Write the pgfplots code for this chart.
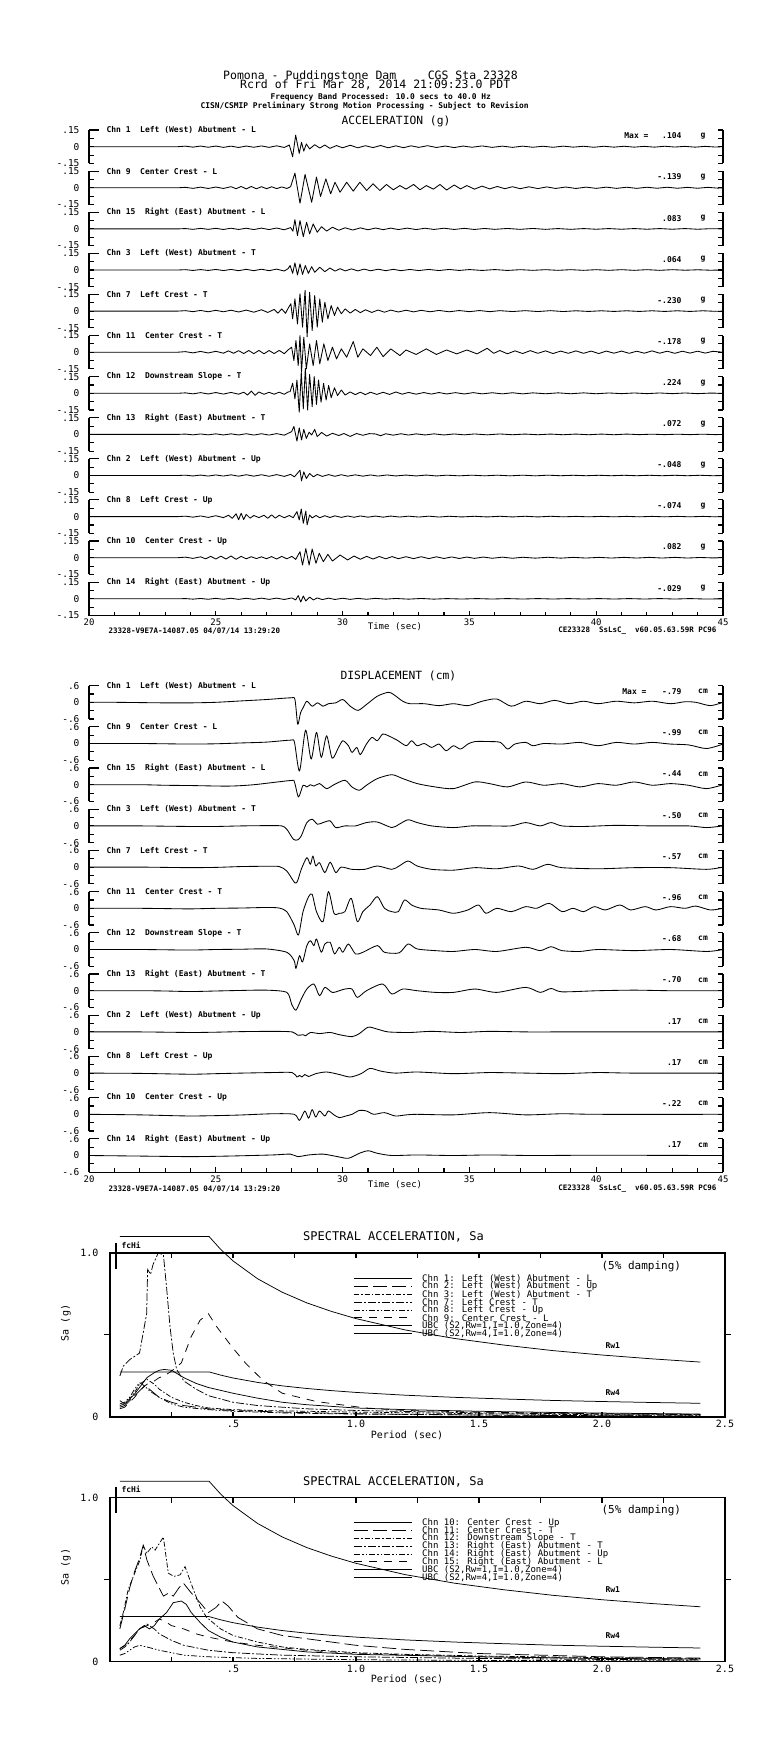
\documentclass[border=0pt]{standalone}
\usepackage{fontspec}
\setmainfont{DejaVu Sans Mono}
\usepackage{pgfplots}
\pgfplotsset{compat=1.18}

\newcommand\lbl{\fontsize{8}{9}\selectfont\bfseries}
\tikzset{
  sp/.style={black, line width=0.75pt},
  sA/.style={sp},
  sB/.style={sp, dash pattern=on 14pt off 5pt},
  sC/.style={sp, dash pattern=on 5pt off 2pt on 1.5pt off 2pt},
  sD/.style={sp, dash pattern=on 8pt off 2pt on 2pt off 2pt},
  sE/.style={sp, dash pattern=on 6pt off 2pt on 1.5pt off 2pt on 1.5pt off 2pt},
  sF/.style={sp, dash pattern=on 8pt off 7pt},
  tr/.style={black, line width=0.85pt, line join=round},
}
\pgfplotsset{
  trace/.style={
    scale only axis, width=634pt, height=33.4pt, anchor=south west,
    xmin=20, xmax=45, clip=false, xtick=\empty,
    axis x line=none, axis y line=box,
    axis line style={line width=1.1pt},
    tick align=inside, major tick length=5pt,
    ytick style={line width=1.1pt, black},
    yticklabel style={font=\fontsize{9.5}{10}\selectfont, xshift=-6pt},
  },
  acc/.style={trace, ymin=-0.15, ymax=0.15,
    ytick={-0.15,-0.075,0,0.075,0.15}, yticklabels={-.15,,0,,.15}},
  dsp/.style={trace, ymin=-0.6, ymax=0.6,
    ytick={-0.6,-0.3,0,0.3,0.6}, yticklabels={-.6,,0,,.6}},
  timeaxis/.style={
    scale only axis, width=634pt, height=20pt, anchor=south west,
    xmin=20, xmax=45, ymin=0, ymax=1, ytick=\empty,
    axis x line=bottom, axis y line=none,
    axis line style={-, line width=1.1pt},
    tick align=inside, major tick length=5pt, minor tick length=4pt,
    tick style={line width=1.1pt, black},
    xtick={20,25,30,35,40,45}, xticklabels={20,25,30,35,40,45},
    minor xtick={21,22,23,24,26,27,28,29,31,32,33,34,36,37,38,39,41,42,43,44},
    xticklabel style={font=\fontsize{9}{9}\selectfont},
  },
  spec/.style={
    scale only axis, width=615pt, height=164pt, anchor=south west,
    xmin=0, xmax=2.5, ymin=0, ymax=1, clip=false,
    axis line style={line width=1.1pt},
    tick align=inside, major tick length=5pt, tick style={line width=1.1pt, black},
    xtick={0,0.25,0.5,0.75,1,1.25,1.5,1.75,2,2.25,2.5},
    xticklabels={,,.5,,1.0,,1.5,,2.0,,2.5},
    ytick={0,1}, yticklabels={0,1.0},
    xticklabel style={font=\fontsize{10}{10}\selectfont},
    yticklabel style={font=\fontsize{10}{10}\selectfont, xshift=-8pt},
  },
}

% #1 style, #2 bottom y, #3 label, #4 max value, #5 unit, #6 coordinates
\newcommand\trace[6]{%
\begin{axis}[#1, at={(89pt,-#2pt)}]
\addplot[tr] coordinates {#6};
\draw[line width=1.1pt] (rel axis cs:0,1) -- ([xshift=10pt]rel axis cs:0,1);
\node[anchor=west,font=\lbl] at ([xshift=14pt]rel axis cs:0,1) {#3};
\node[anchor=east,font=\lbl] at ([xshift=-38pt,yshift=-6pt]rel axis cs:1,1) {#4};
\node[font=\lbl] at ([xshift=-20pt,yshift=-6pt]rel axis cs:1,1) {#5};
\end{axis}}

\newcommand\legrow[3]{%
\draw[#2] (354,-#1) -- (412,-#1);
\node[anchor=west, font=\fontsize{9}{9}\selectfont, inner sep=0pt] at (422,-#1) {#3};}

\begin{document}
\begin{tikzpicture}[x=1pt,y=1pt]
\path (0,0) rectangle (775,-1737);

% ---------- header ----------
\node[anchor=base west, inner sep=0pt, text depth=0pt, font=\fontsize{11.5}{12}\selectfont] at (223,-80) {Pomona - Puddingstone Dam};
\node[anchor=base east, inner sep=0pt, text depth=0pt, font=\fontsize{11.5}{12}\selectfont] at (518,-80) {CGS Sta 23328};
\node[anchor=base west, inner sep=0pt, text height=7.4pt, font=\fontsize{11.5}{12}\selectfont] at (240,-88.4) {Rcrd of Fri Mar 28, 2014 21:09:23.0 PDT};
\node[anchor=west, font=\fontsize{7.9}{8}\selectfont\bfseries] at (267,-97.3) {Frequency Band Processed: 10.0 secs to 40.0 Hz};
\node[anchor=west, font=\fontsize{7.9}{8}\selectfont\bfseries] at (197,-106) {CISN/CSMIP Preliminary Strong Motion Processing - Subject to Revision};
\node[anchor=west, font=\fontsize{11.3}{12}\selectfont] at (338,-121.7) {ACCELERATION (g)};

% ---------- acceleration ----------
\trace{acc}{163.4}{Chn 1~~Left (West) Abutment - L}{.104}{g}{(20,0)(23.5,0)(23.8,.005)(24.1,-.004)(24.4,.006)(24.7,-.005)(25,.006)(25.3,-.006)(25.6,.005)(25.9,-.007)(26.2,.006)(26.5,-.005)(26.8,.007)(27.1,-.006)(27.4,.008)(27.7,-.007)(27.9,.015)(28.03,-.09)(28.15,.104)(28.29,-.06)(28.38,.04)(28.47,-.04)(28.57,.025)(28.7,-.02)(28.9,.018)(29.1,-.012)(29.3,.015)(29.5,-.015)(29.76,.01)(30,-.01)(30.3,.013)(30.6,-.01)(30.9,.009)(31.2,-.008)(31.5,.011)(31.8,-.01)(32.1,.008)(32.4,-.009)(32.7,.008)(33,-.006)(33.35,.009)(33.7,-.007)(34.05,.006)(34.4,-.008)(34.75,.006)(35.1,-.005)(35.5,.007)(35.9,-.006)(36.3,.005)(36.7,-.006)(37.1,.005)(37.5,-.005)(37.9,.004)(38.3,-.005)(38.7,.005)(39.1,-.004)(39.5,.004)(39.9,-.005)(40.3,.004)(40.7,-.004)(41.1,.004)(41.5,-.004)(41.9,.003)(42.3,-.004)(42.7,.004)(43.1,-.003)(43.5,.003)(43.9,-.004)(44.3,.003)(44.7,-.003)(45,0)}
\trace{acc}{204.5}{Chn 9~~Center Crest - L}{-.139}{g}{(20,0)(23.5,0)(23.8,.004)(24.1,-.005)(24.4,.006)(24.7,-.006)(25,.007)(25.3,-.006)(25.6,.01)(25.8,-.008)(26,.012)(26.2,-.01)(26.4,.012)(26.6,-.009)(26.8,.01)(27,-.008)(27.2,.009)(27.4,-.007)(27.6,.008)(27.8,-.006)(27.95,.01)(28.12,.132)(28.32,-.139)(28.52,.12)(28.78,-.13)(28.97,.096)(29.13,-.078)(29.34,.08)(29.53,-.054)(29.7,.05)(29.9,-.04)(30.16,.05)(30.42,-.03)(30.68,.05)(30.95,-.024)(31.2,.036)(31.47,-.024)(31.73,.03)(32,-.018)(32.26,.02)(32.5,-.012)(32.8,.03)(33.05,-.018)(33.3,.02)(33.58,-.012)(33.84,.03)(34.1,-.02)(34.4,.025)(34.65,-.01)(34.9,.02)(35.2,-.012)(35.5,.015)(35.8,-.01)(36.1,.012)(36.4,-.008)(36.7,.01)(37,-.008)(37.35,.009)(37.7,-.007)(38.05,.008)(38.4,-.006)(38.8,.007)(39.2,-.006)(39.6,.006)(40,-.005)(40.4,.006)(40.8,-.005)(41.2,.005)(41.6,-.005)(42,.005)(42.4,-.004)(42.8,.005)(43.2,-.004)(43.6,.004)(44,-.004)(44.4,.004)(44.8,-.003)(45,0)}
\trace{acc}{245.6}{Chn 15~~Right (East) Abutment - L}{.083}{g}{(20,0)(23.5,0)(23.8,.003)(24.1,-.004)(24.4,.005)(24.7,-.004)(25,.005)(25.3,-.005)(25.6,.006)(25.9,-.005)(26.2,.006)(26.5,-.006)(26.8,.007)(27.1,-.006)(27.4,.008)(27.7,-.008)(27.95,.012)(28.04,-.02)(28.12,.083)(28.22,-.06)(28.32,.075)(28.45,-.07)(28.58,.06)(28.7,-.045)(28.84,.045)(29,-.03)(29.17,.02)(29.37,-.02)(29.6,.015)(29.85,-.012)(30.1,.01)(30.4,-.01)(30.7,.009)(31,-.008)(31.3,.008)(31.6,-.007)(31.9,.007)(32.2,-.006)(32.55,.007)(32.9,-.006)(33.25,.006)(33.6,-.005)(34,.006)(34.4,-.005)(34.8,.005)(35.2,-.005)(35.6,.004)(36,-.004)(36.5,.004)(37,-.004)(37.5,.004)(38,-.004)(38.5,.003)(39,-.004)(39.5,.003)(40,-.003)(40.5,.003)(41,-.003)(41.5,.003)(42,-.003)(42.5,.003)(43,-.003)(43.5,.003)(44,-.003)(44.5,.002)(45,0)}
\trace{acc}{286.7}{Chn 3~~Left (West) Abutment - T}{.064}{g}{(20,0)(23.5,0)(23.8,.003)(24.1,-.004)(24.4,.004)(24.7,-.004)(25,.005)(25.3,-.005)(25.6,.005)(25.9,-.006)(26.2,.006)(26.5,-.006)(26.8,.007)(27.1,-.006)(27.4,.008)(27.7,-.009)(27.85,.012)(27.93,.04)(28.03,-.03)(28.12,.064)(28.22,-.045)(28.32,.055)(28.42,-.04)(28.53,.04)(28.65,-.03)(28.78,.03)(28.9,-.02)(29.1,.025)(29.3,-.015)(29.5,.018)(29.7,-.01)(29.9,.012)(30.1,-.008)(30.35,.01)(30.6,-.008)(30.85,.008)(31.1,-.007)(31.4,.007)(31.7,-.006)(32,.006)(32.3,-.006)(32.65,.005)(33,-.005)(33.4,.005)(33.8,-.005)(34.2,.005)(34.6,-.004)(35,.004)(35.5,-.004)(36,.004)(36.5,-.004)(37,.003)(37.5,-.003)(38,.003)(38.5,-.003)(39,.003)(39.5,-.003)(40,.003)(40.5,-.003)(41,.003)(41.5,-.003)(42,.003)(42.5,-.003)(43,.003)(43.5,-.002)(44,.002)(44.5,-.002)(45,0)}
\trace{acc}{327.8}{Chn 7~~Left Crest - T}{-.230}{g}{(20,0)(23.5,0)(23.8,.004)(24.1,-.005)(24.4,.006)(24.7,-.006)(25,.007)(25.3,-.006)(25.6,.008)(25.9,-.008)(26.2,.009)(26.5,-.01)(26.8,.012)(27.05,-.012)(27.3,.015)(27.45,-.018)(27.6,.02)(27.75,-.02)(27.85,.025)(27.96,.066)(28.03,-.07)(28.12,.11)(28.22,-.115)(28.32,.156)(28.42,-.144)(28.52,.186)(28.6,-.23)(28.7,.17)(28.8,-.174)(28.9,.14)(29,-.144)(29.1,.11)(29.2,-.1)(29.3,.08)(29.42,-.07)(29.55,.05)(29.68,-.04)(29.8,.036)(29.95,-.024)(30.1,.02)(30.3,-.018)(30.5,.015)(30.7,-.014)(30.9,.012)(31.15,-.012)(31.4,.01)(31.65,-.01)(31.9,.009)(32.2,-.008)(32.5,.008)(32.8,-.007)(33.1,.007)(33.45,-.006)(33.8,.006)(34.2,-.006)(34.6,.005)(35,-.005)(35.4,.005)(35.8,-.005)(36.2,.004)(36.7,-.004)(37.2,.004)(37.7,-.004)(38.2,.004)(38.7,-.004)(39.2,.003)(39.7,-.003)(40.2,.003)(40.7,-.003)(41.2,.003)(41.7,-.003)(42.2,.003)(42.7,-.003)(43.2,.003)(43.7,-.003)(44.2,.003)(44.7,-.002)(45,0)}
\trace{acc}{368.9}{Chn 11~~Center Crest - T}{-.178}{g}{(20,0)(23.5,0)(23.8,.005)(24.1,-.006)(24.4,.007)(24.7,-.007)(25,.008)(25.3,-.009)(25.5,.012)(25.7,-.01)(25.9,.014)(26.1,-.012)(26.3,.015)(26.5,-.013)(26.7,.016)(26.9,-.014)(27.1,.015)(27.3,-.012)(27.5,.016)(27.7,-.013)(27.85,.02)(27.99,.045)(28.08,-.075)(28.16,.105)(28.25,-.12)(28.32,.15)(28.38,-.178)(28.47,.135)(28.57,-.15)(28.7,.075)(28.84,-.12)(28.97,.105)(29.1,-.105)(29.26,.075)(29.42,-.075)(29.6,.045)(29.76,-.06)(29.95,.03)(30.16,-.045)(30.42,.096)(30.6,-.045)(30.8,.03)(31.1,-.03)(31.35,.045)(31.6,-.04)(31.9,.03)(32.26,-.03)(32.5,.02)(32.9,-.02)(33.3,.03)(33.7,-.02)(34.1,.02)(34.5,-.015)(34.9,.02)(35.3,-.015)(35.7,.035)(35.96,-.01)(36.2,.015)(36.5,-.014)(36.8,.012)(37.1,-.012)(37.4,.014)(37.7,-.01)(38,.012)(38.3,-.012)(38.6,.01)(38.9,-.01)(39.2,.012)(39.5,-.01)(39.8,.01)(40.1,-.012)(40.4,.01)(40.7,-.009)(41,.01)(41.3,-.01)(41.6,.009)(41.9,-.009)(42.2,.012)(42.5,-.009)(42.8,.009)(43.1,-.01)(43.4,.009)(43.7,-.008)(44,.009)(44.3,-.008)(44.6,.008)(45,0)}
\trace{acc}{410.0}{Chn 12~~Downstream Slope - T}{.224}{g}{(20,0)(23.5,0)(23.8,.004)(24.1,-.005)(24.4,.006)(24.7,-.006)(25,.007)(25.3,-.007)(25.6,.008)(25.9,-.008)(26.1,.01)(26.25,-.015)(26.4,.02)(26.55,-.018)(26.7,.012)(26.9,-.009)(27.1,.009)(27.3,-.008)(27.5,.01)(27.7,-.009)(27.85,.012)(27.93,.015)(28.03,.09)(28.12,-.05)(28.2,.12)(28.29,-.17)(28.37,.19)(28.45,-.14)(28.53,.224)(28.62,-.15)(28.7,.17)(28.8,-.12)(28.88,.15)(28.97,-.1)(29.05,.12)(29.15,-.08)(29.25,.09)(29.35,-.06)(29.45,.07)(29.55,-.04)(29.68,.05)(29.8,-.02)(29.95,.03)(30.1,-.015)(30.3,.012)(30.5,-.012)(30.7,.01)(30.9,-.012)(31.1,.01)(31.35,-.01)(31.6,.009)(31.85,-.01)(32.1,.012)(32.35,-.008)(32.6,.008)(32.9,-.008)(33.2,.007)(33.5,-.007)(33.8,.007)(34.1,-.006)(34.45,.006)(34.8,-.006)(35.15,.006)(35.5,-.005)(35.9,.005)(36.3,-.005)(36.7,.005)(37.1,-.005)(37.5,.004)(38,-.004)(38.5,.004)(39,-.004)(39.5,.004)(40,-.004)(40.5,.003)(41,-.003)(41.5,.003)(42,-.003)(42.5,.003)(43,-.003)(43.5,.003)(44,-.003)(44.5,.002)(45,0)}
\trace{acc}{451.1}{Chn 13~~Right (East) Abutment - T}{.072}{g}{(20,0)(23.5,0)(23.8,.003)(24.1,-.004)(24.4,.004)(24.7,-.004)(25,.005)(25.3,-.005)(25.6,.005)(25.9,-.005)(26.2,.006)(26.5,-.006)(26.8,.006)(27.1,-.006)(27.4,.007)(27.7,-.007)(27.99,.025)(28.08,.072)(28.2,-.06)(28.29,.06)(28.38,-.05)(28.47,.045)(28.57,-.036)(28.68,.02)(28.78,-.005)(28.9,.045)(29,-.02)(29.17,.018)(29.37,-.015)(29.6,.01)(29.85,-.01)(30.05,.008)(30.3,-.018)(30.55,.008)(30.8,-.008)(31.05,.007)(31.3,.004)(31.5,-.012)(31.7,.006)(32,-.007)(32.3,.006)(32.6,-.006)(32.9,.005)(33.25,-.005)(33.6,.005)(34,-.005)(34.4,.004)(34.8,-.004)(35.2,.004)(35.7,-.004)(36.2,.004)(36.7,-.003)(37.2,.003)(37.7,-.003)(38.2,.003)(38.7,-.003)(39.2,.003)(39.7,-.003)(40.2,.003)(40.7,-.003)(41.2,.003)(41.7,-.002)(42.2,.002)(42.7,-.002)(43.2,.002)(43.7,-.002)(44.2,.002)(44.7,-.002)(45,0)}
\trace{acc}{492.2}{Chn 2~~Left (West) Abutment - Up}{-.048}{g}{(20,0)(23.5,0)(23.8,.003)(24.1,-.004)(24.4,.004)(24.7,-.005)(25,.005)(25.3,-.005)(25.6,.006)(25.9,-.006)(26.2,.007)(26.5,-.006)(26.8,.007)(27.1,-.007)(27.4,.008)(27.7,-.008)(27.95,.01)(28.1,-.012)(28.2,.015)(28.32,.048)(28.38,-.048)(28.47,.033)(28.57,-.027)(28.7,.018)(28.85,-.012)(29,.01)(29.2,-.008)(29.45,.008)(29.7,-.007)(29.95,.007)(30.2,-.006)(30.5,.006)(30.8,-.006)(31.1,.005)(31.4,-.005)(31.75,.005)(32.1,-.004)(32.5,.004)(32.9,-.004)(33.3,.004)(33.7,-.004)(34.1,.003)(34.6,-.003)(35.1,.003)(35.6,-.003)(36.1,.003)(36.6,-.003)(37.1,.003)(37.6,-.003)(38.1,.003)(38.6,-.002)(39.1,.002)(39.6,-.002)(40.1,.002)(40.6,-.002)(41.1,.002)(41.6,-.002)(42.1,.002)(42.6,-.002)(43.1,.002)(43.6,-.002)(44.1,.002)(44.6,-.002)(45,0)}
\trace{acc}{533.3}{Chn 8~~Left Crest - Up}{-.074}{g}{(20,0)(23.5,0)(23.8,.004)(24.1,-.005)(24.4,.006)(24.7,-.007)(25,.008)(25.3,-.009)(25.5,.012)(25.65,-.015)(25.8,.025)(25.9,-.028)(26,.03)(26.1,-.026)(26.2,.02)(26.35,-.014)(26.5,.01)(26.7,-.009)(26.9,.012)(27.05,-.015)(27.2,.016)(27.35,-.014)(27.5,.012)(27.7,-.01)(27.9,.01)(28.05,-.01)(28.2,.045)(28.29,-.03)(28.37,.069)(28.45,-.06)(28.55,.05)(28.6,-.074)(28.7,.015)(28.8,-.012)(28.95,.01)(29.1,-.01)(29.3,.008)(29.5,-.008)(29.7,.007)(29.95,-.007)(30.2,.006)(30.45,-.006)(30.7,.006)(31,-.005)(31.3,.005)(31.6,-.005)(31.9,.005)(32.25,-.004)(32.6,.004)(33,-.004)(33.4,.004)(33.8,-.004)(34.2,.003)(34.7,-.003)(35.2,.003)(35.7,-.003)(36.2,.003)(36.7,-.003)(37.2,.003)(37.7,-.003)(38.2,.003)(38.7,-.002)(39.2,.002)(39.7,-.002)(40.2,.002)(40.7,-.002)(41.2,.002)(41.7,-.002)(42.2,.002)(42.7,-.002)(43.2,.002)(43.7,-.002)(44.2,.002)(44.7,-.002)(45,0)}
\trace{acc}{574.4}{Chn 10~~Center Crest - Up}{.082}{g}{(20,0)(23.5,0)(23.8,.005)(24.1,-.006)(24.4,.008)(24.6,-.01)(24.8,.012)(25,-.012)(25.2,.014)(25.4,-.012)(25.6,.015)(25.8,-.014)(26,.012)(26.2,-.01)(26.4,.009)(26.6,-.008)(26.8,.008)(27,-.009)(27.2,.01)(27.4,-.012)(27.6,.012)(27.8,-.01)(28,.012)(28.15,-.015)(28.32,.054)(28.42,-.066)(28.55,.082)(28.68,-.066)(28.8,.078)(28.95,-.05)(29.08,.04)(29.24,-.036)(29.42,.03)(29.6,-.03)(29.9,.024)(30.2,-.02)(30.45,.015)(30.7,-.014)(30.95,.012)(31.2,-.012)(31.45,.011)(31.7,-.01)(31.95,.01)(32.2,-.009)(32.5,.009)(32.8,-.008)(33.1,.009)(33.4,-.008)(33.7,.008)(34,-.007)(34.3,.007)(34.6,-.007)(34.9,.006)(35.2,-.006)(35.55,.006)(35.9,-.005)(36.3,.005)(36.7,-.005)(37.1,.004)(37.6,-.004)(38.1,.004)(38.6,-.004)(39.1,.003)(39.6,-.003)(40.1,.003)(40.6,-.003)(41.1,.003)(41.6,-.003)(42.1,.003)(42.6,-.003)(43.1,.003)(43.6,-.003)(44.1,.002)(44.6,-.002)(45,0)}
\trace{acc}{615.5}{Chn 14~~Right (East) Abutment - Up}{-.029}{g}{(20,0)(23.5,0)(23.8,.002)(24.1,-.003)(24.4,.003)(24.7,-.004)(25,.004)(25.3,-.004)(25.6,.005)(25.9,-.005)(26.2,.005)(26.5,-.005)(26.8,.006)(27.1,-.005)(27.4,.006)(27.7,-.006)(28,.008)(28.15,-.01)(28.25,.029)(28.35,-.029)(28.45,.025)(28.55,-.02)(28.7,.015)(28.85,-.01)(29,.008)(29.2,-.007)(29.45,.006)(29.7,-.006)(30,.005)(30.3,-.005)(30.6,.004)(30.95,-.004)(31.3,.004)(31.7,-.003)(32.1,.003)(32.6,-.003)(33.1,.003)(33.6,-.003)(34.1,.002)(34.7,-.002)(35.3,.002)(35.9,-.002)(36.5,.002)(37.1,-.002)(37.7,.002)(38.3,-.002)(38.9,.002)(39.5,-.002)(40.1,.002)(40.7,-.002)(41.3,.002)(41.9,-.002)(42.5,.002)(43.1,-.002)(43.7,.002)(44.3,-.002)(45,0)}
\begin{axis}[timeaxis, at={(89pt,-615.5pt)}]
\end{axis}
\node[anchor=east, font=\lbl] at (652,-136) {Max =};
\node[font=\fontsize{9}{9}\selectfont] at (395,-627) {Time (sec)};
\node[anchor=west, font=\fontsize{7.5}{8}\selectfont\bfseries] at (105,-631) {23328-V9E7A-14087.05 04/07/14 13:29:20};
\node[anchor=east, font=\fontsize{7.5}{8}\selectfont\bfseries] at (720,-631) {CE23328~~SsLsC\_~~v60.05.63.59R PC96};

% ---------- displacement ----------
\node[anchor=west, font=\fontsize{11.3}{12}\selectfont] at (337,-676) {DISPLACEMENT (cm)};
\tikzset{tr/.append style={smooth, tension=0.45}}
\trace{dsp}{719.0}{Chn 1~~Left (West) Abutment - L}{-.79}{cm}{(20,0)(21,0)(22,-.01)(23,-.02)(24,-.02)(25,0)(26,.05)(27,.1)(27.94,.16)(28.12,.1)(28.23,-.79)(28.34,-.38)(28.44,-.2)(28.59,.04)(28.8,-.14)(29.01,-.02)(29.23,-.14)(29.44,-.05)(29.73,-.02)(30.01,.1)(30.3,-.14)(30.61,-.29)(30.94,-.08)(31.37,.22)(31.8,.36)(32.01,.28)(32.37,.04)(32.65,-.05)(33.22,-.05)(33.8,-.12)(34.37,-.05)(34.94,-.12)(35.51,.04)(36.08,.12)(36.65,-.14)(37.22,.04)(37.79,-.05)(38.36,.07)(38.93,-.05)(39.5,.04)(40.07,-.05)(40.79,.04)(41.5,-.02)(42.21,.04)(42.93,-.05)(43.5,.02)(43.93,0)(44.5,-.12)(45,0)}
\trace{dsp}{760.2}{Chn 9~~Center Crest - L}{-.99}{cm}{(20,0)(22,0)(23,-.01)(24,-.02)(25,-.01)(26,.02)(27,.05)(27.94,.12)(28.1,.05)(28.3,-.99)(28.54,.48)(28.76,-.56)(28.97,.4)(29.16,-.5)(29.37,.28)(29.59,-.53)(29.84,-.14)(30.01,.1)(30.23,-.08)(30.37,-.32)(30.56,-.14)(30.7,-.4)(30.94,-.02)(31.16,.22)(31.37,.1)(31.58,.34)(31.8,.28)(32.15,.12)(32.51,-.08)(32.72,.1)(32.94,-.08)(33.22,0)(33.51,-.14)(33.8,-.02)(34.08,-.26)(34.37,-.08)(34.65,-.2)(34.94,-.02)(35.22,.07)(35.79,.07)(36.22,.04)(36.51,-.2)(36.79,-.02)(37.22,.04)(37.51,-.08)(37.93,0)(38.65,-.02)(39.36,.04)(40.07,-.08)(40.79,.04)(41.5,-.02)(42.21,.04)(42.93,-.02)(43.64,-.05)(44.35,-.18)(45,-.02)}
\trace{dsp}{801.4}{Chn 15~~Right (East) Abutment - L}{-.44}{cm}{(20,0)(22,0)(23,-.02)(24,-.03)(25.5,-.05)(26.5,0)(27.94,.15)(28.1,.1)(28.26,-.44)(28.44,-.02)(28.59,-.08)(28.73,0)(28.87,-.05)(29.09,.04)(29.37,-.14)(29.66,0)(30.09,.16)(30.37,-.08)(30.66,-.2)(30.94,-.02)(31.37,.22)(31.94,.36)(32.37,.22)(32.94,.04)(33.65,-.08)(34.37,-.14)(35.22,.1)(35.79,.04)(36.51,-.08)(37.22,.1)(37.93,-.02)(38.65,.04)(39.36,-.08)(40.07,.04)(40.79,-.02)(41.5,.1)(42.21,-.02)(42.93,.04)(43.64,-.02)(44.35,-.14)(45,0)}
\trace{dsp}{842.6}{Chn 3~~Left (West) Abutment - T}{-.50}{cm}{(20,0)(22,0)(23,-.01)(24,-.02)(25,-.02)(26,0)(27,.01)(27.6,0)(27.8,-.12)(28.06,-.48)(28.23,-.5)(28.37,-.36)(28.59,.12)(28.8,.24)(29.01,.06)(29.23,.12)(29.51,.18)(29.73,-.06)(30.09,0)(30.51,0)(30.94,.12)(31.37,.14)(31.94,-.06)(32.23,.06)(32.58,.22)(32.94,.12)(33.51,0)(34.37,-.06)(35.08,0)(35.79,0)(36.65,0)(37.22,.12)(37.79,0)(38.22,.12)(38.65,0)(39.5,-.02)(40.79,.02)(42.21,0)(43.64,0)(44.35,-.06)(45,0)}
\trace{dsp}{883.8}{Chn 7~~Left Crest - T}{-.57}{cm}{(20,0)(22,0)(23,-.01)(24,-.02)(25,-.01)(26,.02)(27,.03)(27.5,.02)(27.8,-.14)(28.12,-.57)(28.23,-.48)(28.37,-.08)(28.59,.34)(28.73,.1)(28.83,.4)(28.94,.04)(29.09,.16)(29.3,-.2)(29.51,.18)(29.73,-.2)(29.94,0)(30.37,-.08)(30.87,-.08)(31.37,.04)(31.94,-.08)(32.23,.04)(32.58,.22)(32.94,.04)(33.51,-.08)(34.37,-.11)(35.22,-.02)(36.08,-.06)(36.94,.04)(37.51,-.08)(38.08,.1)(38.65,-.02)(40.07,-.06)(41.5,-.02)(42.93,-.02)(44.35,-.08)(45,0)}
\trace{dsp}{925.0}{Chn 11~~Center Crest - T}{-.96}{cm}{(20,0)(22,0)(23,-.01)(24,-.02)(25,0)(26,.01)(27,.03)(27.5,.01)(27.8,-.12)(28.09,-.6)(28.26,-.96)(28.44,-.12)(28.66,.42)(28.8,.5)(28.97,-.12)(29.23,-.48)(29.44,.6)(29.66,-.18)(29.87,-.18)(30.09,-.12)(30.34,.36)(30.58,-.48)(30.8,-.12)(31.08,.12)(31.37,.42)(31.65,0)(31.94,-.12)(32.2,-.12)(32.44,.3)(32.72,.12)(33.08,0)(33.8,-.06)(34.37,-.18)(34.94,-.06)(35.36,.12)(35.65,-.18)(36.08,0)(36.65,-.12)(37.22,.06)(37.65,0)(38.15,.18)(38.65,-.12)(39.08,0)(39.5,-.12)(39.93,.06)(40.36,-.06)(40.93,.12)(41.36,-.06)(41.93,.06)(42.36,-.06)(42.93,.06)(43.5,0)(43.93,.08)(44.5,-.06)(45,0)}
\trace{dsp}{966.2}{Chn 12~~Downstream Slope - T}{-.68}{cm}{(20,0)(22,0)(23,-.01)(24,-.02)(25,0)(26,.01)(27,.02)(27.8,-.1)(28.09,-.4)(28.16,-.68)(28.3,-.22)(28.42,-.45)(28.59,.14)(28.73,.32)(28.87,.14)(28.97,.38)(29.16,-.1)(29.3,.2)(29.51,.26)(29.68,-.16)(29.87,.08)(30.01,-.1)(30.23,.2)(30.51,-.16)(30.8,-.1)(31.37,.14)(31.65,-.1)(32.23,-.12)(32.58,.2)(32.94,.02)(33.65,-.04)(34.37,-.07)(35.22,0)(36.08,-.07)(37.22,.08)(37.79,-.04)(38.22,.1)(38.65,-.04)(39.36,-.07)(40.07,0)(41.5,-.04)(42.93,0)(44.35,-.07)(45,0)}
\trace{dsp}{1007.4}{Chn 13~~Right (East) Abutment - T}{-.70}{cm}{(20,0)(22,0)(23,-.01)(24,-.03)(25,-.01)(26,.01)(27,.02)(27.8,-.06)(27.99,-.48)(28.16,-.7)(28.37,-.3)(28.59,.06)(28.87,.24)(29.09,-.18)(29.3,.12)(29.59,-.06)(29.87,0)(30.09,.06)(30.37,.06)(30.58,-.24)(30.94,0)(31.58,.24)(31.94,-.12)(32.37,.06)(32.94,0)(33.65,-.06)(34.37,-.06)(35.22,.06)(36.08,-.06)(37.22,.12)(37.79,-.06)(38.22,.08)(38.65,-.04)(40.07,0)(41.5,.02)(42.93,0)(45,0)}
\trace{dsp}{1048.6}{Chn 2~~Left (West) Abutment - Up}{.17}{cm}{(20,0)(22,0)(24,-.02)(25,-.01)(26,.01)(27.23,.02)(28.01,0)(28.23,-.12)(28.44,-.1)(28.54,-.14)(28.73,-.02)(29.09,-.06)(29.51,-.02)(29.87,-.1)(30.37,-.17)(30.66,-.06)(31.01,.17)(31.37,.1)(31.8,0)(32.65,-.02)(33.51,.02)(34.65,-.02)(35.79,.02)(37.22,0)(38.65,0)(41.5,0)(45,0)}
\trace{dsp}{1089.8}{Chn 8~~Left Crest - Up}{.17}{cm}{(20,0)(22,-.01)(24,-.04)(25,-.02)(26,0)(27.23,.02)(28.01,.02)(28.2,-.14)(28.3,-.08)(28.4,-.14)(28.51,-.05)(28.66,-.12)(28.94,-.02)(29.37,.04)(29.87,-.05)(30.3,-.14)(30.73,-.02)(31.08,.17)(31.51,.07)(32.08,0)(32.94,.04)(34.37,-.02)(35.79,.02)(37.22,0)(38.65,-.02)(40.07,.02)(41.5,0)(45,0)}
\trace{dsp}{1131.0}{Chn 10~~Center Crest - Up}{-.22}{cm}{(20,0)(22,-.02)(24,-.06)(25.8,-.03)(27.23,.02)(28.09,0)(28.3,-.22)(28.51,.12)(28.66,-.14)(28.8,.17)(28.94,-.1)(29.09,.12)(29.3,-.06)(29.44,.12)(29.66,-.02)(29.87,-.12)(30.09,-.07)(30.37,0)(30.66,.14)(30.94,.12)(31.23,0)(31.65,.06)(32.08,-.06)(32.51,-.02)(32.94,0)(34.37,-.02)(35.79,.06)(37.22,-.02)(38.65,.02)(40.07,0)(45,0)}
\trace{dsp}{1172.2}{Chn 14~~Right (East) Abutment - Up}{.17}{cm}{(20,0)(22,-.02)(24,-.04)(25.5,-.02)(27.23,.02)(27.94,.05)(28.23,-.04)(28.66,.02)(29.23,.05)(29.8,-.04)(30.23,-.1)(30.66,.08)(31.01,.17)(31.37,.08)(31.94,0)(32.94,.02)(34.37,0)(35.79,.02)(37.5,0)(40,.01)(45,0)}
\begin{axis}[timeaxis, at={(89pt,-1172.2pt)}]
\end{axis}
\node[anchor=east, font=\lbl] at (650,-691.6) {Max =};
\node[font=\fontsize{9}{9}\selectfont] at (395,-1185) {Time (sec)};
\node[anchor=west, font=\fontsize{7.5}{8}\selectfont\bfseries] at (105,-1189) {23328-V9E7A-14087.05 04/07/14 13:29:20};
\node[anchor=east, font=\fontsize{7.5}{8}\selectfont\bfseries] at (720,-1189) {CE23328~~SsLsC\_~~v60.05.63.59R PC96};

% ---------- spectral acceleration 1 ----------
\begin{axis}[spec, at={(110pt,-1417pt)}]
\addplot[sp] coordinates {(0.04,1.1)(0.403,1.1)(0.45,1.022)(0.5,0.952)(0.6,0.843)(0.7,0.761)(0.8,0.696)(0.9,0.644)(1.0,0.6)(1.2,0.531)(1.4,0.479)(1.6,0.439)(1.8,0.405)(2.0,0.378)(2.2,0.355)(2.4,0.335)};
\addplot[sp] coordinates {(0.04,0.275)(0.403,0.275)(0.45,0.2555)(0.5,0.238)(0.6,0.211)(0.7,0.19)(0.8,0.174)(0.9,0.161)(1.0,0.15)(1.2,0.133)(1.4,0.12)(1.6,0.11)(1.8,0.101)(2.0,0.0945)(2.2,0.0887)(2.4,0.0837)};
\addplot[sA] coordinates {(0.04,0.10)(0.06,0.08)(0.08,0.11)(0.10,0.14)(0.12,0.18)(0.15,0.24)(0.18,0.27)(0.20,0.285)(0.22,0.29)(0.25,0.285)(0.30,0.24)(0.35,0.205)(0.40,0.18)(0.50,0.145)(0.60,0.115)(0.70,0.09)(0.80,0.075)(1.0,0.055)(1.2,0.045)(1.5,0.035)(1.8,0.028)(2.0,0.024)(2.4,0.018)};
\addplot[sB] coordinates {(0.04,0.06)(0.06,0.07)(0.08,0.10)(0.10,0.13)(0.12,0.16)(0.14,0.19)(0.16,0.17)(0.20,0.12)(0.25,0.09)(0.30,0.07)(0.40,0.05)(0.50,0.04)(0.70,0.03)(1.0,0.02)(1.5,0.012)(2.0,0.008)(2.4,0.006)};
\addplot[sC] coordinates {(0.04,0.07)(0.06,0.08)(0.08,0.11)(0.10,0.15)(0.12,0.20)(0.15,0.23)(0.18,0.20)(0.20,0.17)(0.25,0.12)(0.30,0.09)(0.35,0.07)(0.40,0.055)(0.50,0.045)(0.60,0.04)(0.80,0.035)(1.0,0.03)(1.5,0.02)(2.0,0.014)(2.4,0.01)};
\addplot[sD] coordinates {(0.04,0.25)(0.054,0.31)(0.08,0.35)(0.12,0.39)(0.149,0.63)(0.153,0.90)(0.165,0.87)(0.175,0.93)(0.196,1.0)(0.217,0.99)(0.23,0.79)(0.244,0.55)(0.257,0.39)(0.271,0.29)(0.30,0.22)(0.35,0.17)(0.40,0.13)(0.50,0.09)(0.60,0.07)(0.80,0.05)(1.0,0.04)(1.5,0.025)(2.0,0.018)(2.4,0.015)};
\addplot[sE] coordinates {(0.04,0.08)(0.06,0.09)(0.08,0.12)(0.10,0.17)(0.12,0.21)(0.14,0.19)(0.16,0.16)(0.20,0.12)(0.25,0.08)(0.30,0.06)(0.40,0.045)(0.50,0.035)(0.70,0.025)(1.0,0.018)(1.5,0.012)(2.0,0.008)(2.4,0.006)};
\addplot[sF] coordinates {(0.04,0.05)(0.06,0.06)(0.08,0.09)(0.10,0.12)(0.12,0.16)(0.15,0.20)(0.18,0.22)(0.20,0.24)(0.22,0.25)(0.25,0.28)(0.29,0.33)(0.33,0.49)(0.366,0.59)(0.40,0.63)(0.434,0.55)(0.50,0.42)(0.55,0.33)(0.62,0.226)(0.70,0.145)(0.84,0.094)(1.04,0.055)(1.2,0.04)(1.5,0.03)(2.0,0.02)(2.4,0.016)};
\end{axis}
\node[font=\fontsize{12}{12}\selectfont] at (393.5,-1236.7) {SPECTRAL ACCELERATION, Sa};
\node[rotate=90, font=\fontsize{10}{10}\selectfont] at (66,-1323) {Sa (g)};
\node[font=\fontsize{10}{10}\selectfont] at (407,-1435) {Period (sec)};
\draw[line width=1.1pt] (110,-1334.7) -- (104,-1334.7) (725,-1334.7) -- (731,-1334.7);
\draw[line width=1.1pt] (116,-1242.7) -- (116,-1268.7);
\node[anchor=west, font=\lbl] at (118,-1245.7) {fcHi};
\node[anchor=west, font=\fontsize{11}{11}\selectfont] at (598,-1266.7) {(5\% damping)};
\node[anchor=west, font=\lbl] at (602,-1345.7) {Rw1};
\node[anchor=west, font=\lbl] at (602,-1392.7) {Rw4};
\legrow{1278.7}{sA}{Chn 1: Left (West) Abutment - L}
\legrow{1286.5}{sB}{Chn 2: Left (West) Abutment - Up}
\legrow{1294.3}{sC}{Chn 3: Left (West) Abutment - T}
\legrow{1302.1}{sD}{Chn 7: Left Crest - T}
\legrow{1309.9}{sE}{Chn 8: Left Crest - Up}
\legrow{1317.7}{sF}{Chn 9: Center Crest - L}
\legrow{1325.5}{sp}{UBC (S2,Rw=1,I=1.0,Zone=4)}
\legrow{1333.3}{sp}{UBC (S2,Rw=4,I=1.0,Zone=4)}

% ---------- spectral acceleration 2 ----------
\begin{axis}[spec, at={(110pt,-1661.7pt)}]
\addplot[sp] coordinates {(0.04,1.1)(0.403,1.1)(0.45,1.022)(0.5,0.952)(0.6,0.843)(0.7,0.761)(0.8,0.696)(0.9,0.644)(1.0,0.6)(1.2,0.531)(1.4,0.479)(1.6,0.439)(1.8,0.405)(2.0,0.378)(2.2,0.355)(2.4,0.335)};
\addplot[sp] coordinates {(0.04,0.275)(0.403,0.275)(0.45,0.2555)(0.5,0.238)(0.6,0.211)(0.7,0.19)(0.8,0.174)(0.9,0.161)(1.0,0.15)(1.2,0.133)(1.4,0.12)(1.6,0.11)(1.8,0.101)(2.0,0.0945)(2.2,0.0887)(2.4,0.0837)};
\addplot[sA] coordinates {(0.04,0.08)(0.06,0.10)(0.08,0.14)(0.10,0.17)(0.12,0.20)(0.14,0.22)(0.16,0.20)(0.18,0.22)(0.20,0.26)(0.23,0.30)(0.257,0.36)(0.29,0.37)(0.31,0.35)(0.33,0.30)(0.366,0.24)(0.40,0.19)(0.45,0.15)(0.50,0.12)(0.60,0.09)(0.80,0.06)(1.0,0.045)(1.5,0.03)(2.0,0.02)(2.4,0.016)};
\addplot[sB] coordinates {(0.04,0.20)(0.06,0.32)(0.08,0.45)(0.10,0.55)(0.12,0.63)(0.135,0.71)(0.15,0.62)(0.176,0.52)(0.20,0.45)(0.217,0.40)(0.24,0.42)(0.257,0.40)(0.28,0.45)(0.298,0.48)(0.33,0.42)(0.366,0.36)(0.40,0.30)(0.43,0.33)(0.455,0.37)(0.48,0.34)(0.52,0.27)(0.60,0.20)(0.70,0.16)(0.80,0.14)(0.90,0.12)(1.0,0.10)(1.2,0.075)(1.5,0.05)(2.0,0.03)(2.4,0.022)};
\addplot[sC] coordinates {(0.04,0.22)(0.054,0.30)(0.074,0.44)(0.095,0.52)(0.122,0.62)(0.135,0.71)(0.149,0.66)(0.17,0.70)(0.183,0.68)(0.20,0.72)(0.217,0.76)(0.237,0.54)(0.26,0.52)(0.285,0.53)(0.305,0.58)(0.339,0.44)(0.366,0.335)(0.393,0.27)(0.45,0.20)(0.50,0.16)(0.60,0.12)(0.70,0.09)(0.80,0.075)(1.0,0.055)(1.2,0.045)(1.5,0.035)(2.0,0.025)(2.4,0.02)};
\addplot[sD] coordinates {(0.04,0.07)(0.06,0.09)(0.08,0.12)(0.10,0.16)(0.12,0.20)(0.15,0.23)(0.18,0.20)(0.20,0.17)(0.25,0.13)(0.30,0.10)(0.40,0.07)(0.50,0.055)(0.70,0.04)(1.0,0.03)(1.5,0.02)(2.0,0.014)(2.4,0.01)};
\addplot[sE] coordinates {(0.04,0.04)(0.06,0.05)(0.08,0.07)(0.10,0.09)(0.12,0.10)(0.15,0.09)(0.20,0.07)(0.30,0.04)(0.40,0.03)(0.60,0.02)(1.0,0.012)(1.5,0.008)(2.4,0.005)};
\addplot[sF] coordinates {(0.04,0.08)(0.06,0.10)(0.08,0.13)(0.10,0.16)(0.12,0.20)(0.15,0.22)(0.18,0.24)(0.20,0.26)(0.22,0.25)(0.25,0.22)(0.30,0.20)(0.35,0.17)(0.40,0.15)(0.50,0.12)(0.60,0.10)(0.80,0.07)(1.0,0.05)(1.5,0.03)(2.0,0.02)(2.4,0.015)};
\end{axis}
\node[font=\fontsize{12}{12}\selectfont] at (393.5,-1481.7) {SPECTRAL ACCELERATION, Sa};
\node[rotate=90, font=\fontsize{10}{10}\selectfont] at (66,-1567) {Sa (g)};
\node[font=\fontsize{10}{10}\selectfont] at (407,-1679.7) {Period (sec)};
\draw[line width=1.1pt] (110,-1579.7) -- (104,-1579.7) (725,-1579.7) -- (731,-1579.7);
\draw[line width=1.1pt] (116,-1486.7) -- (116,-1512.7);
\node[anchor=west, font=\lbl] at (118,-1489.7) {fcHi};
\node[anchor=west, font=\fontsize{11}{11}\selectfont] at (598,-1510.7) {(5\% damping)};
\node[anchor=west, font=\lbl] at (602,-1589.3) {Rw1};
\node[anchor=west, font=\lbl] at (602,-1636) {Rw4};
\legrow{1522.7}{sA}{Chn 10: Center Crest - Up}
\legrow{1530.5}{sB}{Chn 11: Center Crest - T}
\legrow{1538.3}{sC}{Chn 12: Downstream Slope - T}
\legrow{1546.1}{sD}{Chn 13: Right (East) Abutment - T}
\legrow{1553.9}{sE}{Chn 14: Right (East) Abutment - Up}
\legrow{1561.7}{sF}{Chn 15: Right (East) Abutment - L}
\legrow{1569.5}{sp}{UBC (S2,Rw=1,I=1.0,Zone=4)}
\legrow{1577.3}{sp}{UBC (S2,Rw=4,I=1.0,Zone=4)}
\end{tikzpicture}
\end{document}
